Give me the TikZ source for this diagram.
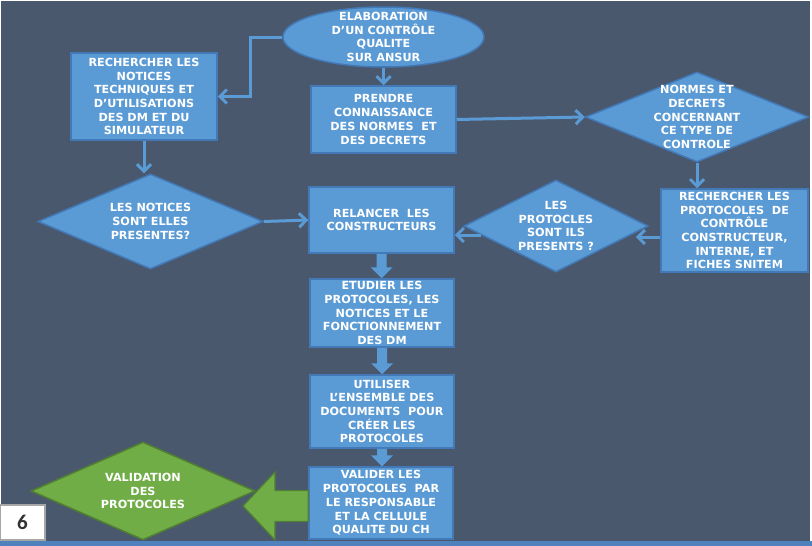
\documentclass[tikz,border=0pt]{standalone}
\usepackage{fontspec}
\setmainfont{DejaVu Sans}
\newfontfamily\sixfont{Carlito}
\usetikzlibrary{shapes.geometric,arrows.meta,calc}
\definecolor{bgc}{RGB}{74,88,110}
\definecolor{boxblue}{RGB}{91,155,213}
\definecolor{boxedge}{RGB}{66,121,182}
\definecolor{grn}{RGB}{112,173,71}
\definecolor{grnedge}{RGB}{80,126,50}
\definecolor{stripblue}{RGB}{79,129,189}
\newcommand\vblk[2]{%
  \path (#2.north -| #1.south) coordinate (tip-#1);
  \fill[boxblue] ([xshift=-5pt]#1.south) -- ([xshift=5pt]#1.south)
    -- ([xshift=5pt,yshift=11pt]tip-#1) -- ([xshift=11pt,yshift=11pt]tip-#1)
    -- (tip-#1) -- ([xshift=-11pt,yshift=11pt]tip-#1)
    -- ([xshift=-5pt,yshift=11pt]tip-#1) -- cycle;}
\begin{document}
\begin{tikzpicture}[x=1pt,y=-1pt,
  txt/.style={text=white,font=\fontsize{11.2}{13.7}\selectfont\bfseries,align=center},
  box/.style={rectangle,draw=boxedge,line width=1.5pt,fill=boxblue,inner sep=0pt,txt},
  dia/.style={diamond,draw=boxedge,line width=1.5pt,fill=boxblue,inner sep=0pt},
  conn/.style={draw=boxblue,line width=3pt,-{Straight Barb[length=7pt,width=14pt]}},
]
% background and frame
\fill[white] (0,0) rectangle (812,546);
\fill[bgc] (1,1) rectangle (810,541);
\fill[stripblue] (0,541) rectangle (812,546);
\useasboundingbox (0,0) rectangle (812,546);

% nodes
\node[ellipse,draw=boxedge,line width=1.5pt,fill=boxblue,inner sep=0pt,
  minimum width=201,minimum height=60,
  label={[txt]center:{ELABORATION\\D’UN CONTRÔLE\\QUALITE\\SUR ANSUR}}] (ell) at (383.5,37) {};
\node[box,minimum width=146,minimum height=87] (notices) at (144,96.5)
  {RECHERCHER LES\\NOTICES\\TECHNIQUES ET\\D’UTILISATIONS\\DES DM ET DU\\SIMULATEUR};
\node[box,minimum width=145,minimum height=67] (prendre) at (383.5,119.5)
  {PRENDRE\\CONNAISSANCE\\DES NORMES~ ET\\DES DECRETS};
\node[dia,minimum width=223,minimum height=90,
  label={[txt]center:{NORMES ET\\DECRETS\\CONCERNANT\\CE TYPE DE\\CONTROLE}}] (normes) at (697,117) {};
\node[box,minimum width=147,minimum height=83] (rechproto) at (734.5,230.5)
  {RECHERCHER LES\\PROTOCOLES~ DE\\CONTRÔLE\\CONSTRUCTEUR,\\INTERNE, ET\\FICHES SNITEM};
\node[dia,minimum width=184,minimum height=92,
  label={[txt]center:{LES\\PROTOCLES\\SONT ILS\\PRESENTS ?}}] (protocles) at (556,226) {};
\node[box,minimum width=145,minimum height=66] (relancer) at (381.5,220)
  {RELANCER~ LES\\CONSTRUCTEURS};
\node[dia,minimum width=225,minimum height=95,
  label={[txt]center:{LES NOTICES\\SONT ELLES\\PRESENTES?}}] (lesnotices) at (150.5,221.5) {};
\node[box,minimum width=144,minimum height=68] (etudier) at (382,313)
  {ETUDIER LES\\PROTOCOLES, LES\\NOTICES ET LE\\FONCTIONNEMENT\\DES DM};
\node[box,minimum width=144,minimum height=73] (utiliser) at (382,411.5)
  {UTILISER\\L’ENSEMBLE DES\\DOCUMENTS~ POUR\\CRÉER LES\\PROTOCOLES};
\node[box,minimum width=144,minimum height=72] (valider) at (381,503)
  {VALIDER LES\\PROTOCOLES~ PAR\\LE RESPONSABLE\\ET LA CELLULE\\QUALITE DU CH};
\node[diamond,draw=grnedge,line width=1.5pt,fill=grn,inner sep=0pt,
  minimum width=224,minimum height=98,
  label={[txt]center:{VALIDATION\\DES\\PROTOCOLES}}] (validation) at (143,491) {};
\node[rectangle,draw=gray!70,line width=1.5pt,fill=white,inner sep=0pt,
  minimum width=45,minimum height=35,text=black!80,
  font=\sixfont\fontsize{21}{23}\selectfont\bfseries] (six) at (22.5,522.5) {6};

% connectors
\coordinate (c1) at (250,37);
\draw[conn] (ell.west) -- (c1) |- (notices.east);
\draw[conn] (ell.south) -- (prendre.north);
\draw[conn] (prendre.east) -- (normes.west);
\draw[conn] (normes.south) -- (normes.south |- rechproto.north);
\coordinate (a5s) at ([yshift=-6.5pt]rechproto.west);
\coordinate (a5e) at ($(a5s -| protocles.east)+(-13,0)$);
\draw[conn] (a5s) -- (a5e);
\coordinate (a6s) at ([xshift=18pt,yshift=-9pt]protocles.west);
\draw[conn] (a6s) -- (a6s -| relancer.east);
\draw[conn] (notices.south) -- (notices.south |- lesnotices.north);
\draw[conn] (lesnotices.east) -- (relancer.west);

% block arrows
\vblk{relancer}{etudier}
\vblk{etudier}{utiliser}
\vblk{utiliser}{valider}

% green block arrow
\coordinate (gs) at ([yshift=-3pt]valider.west);
\coordinate (gtip) at (243,506);
\filldraw[fill=grn,draw=grnedge,line width=1.2pt]
  ($(gs)+(0,-15.5)$) -- ($(gtip)+(32,-15.5)$) -- ($(gtip)+(32,-34)$) -- (gtip)
  -- ($(gtip)+(32,34)$) -- ($(gtip)+(32,15.5)$) -- ($(gs)+(0,15.5)$) -- cycle;
\end{tikzpicture}
\end{document}
